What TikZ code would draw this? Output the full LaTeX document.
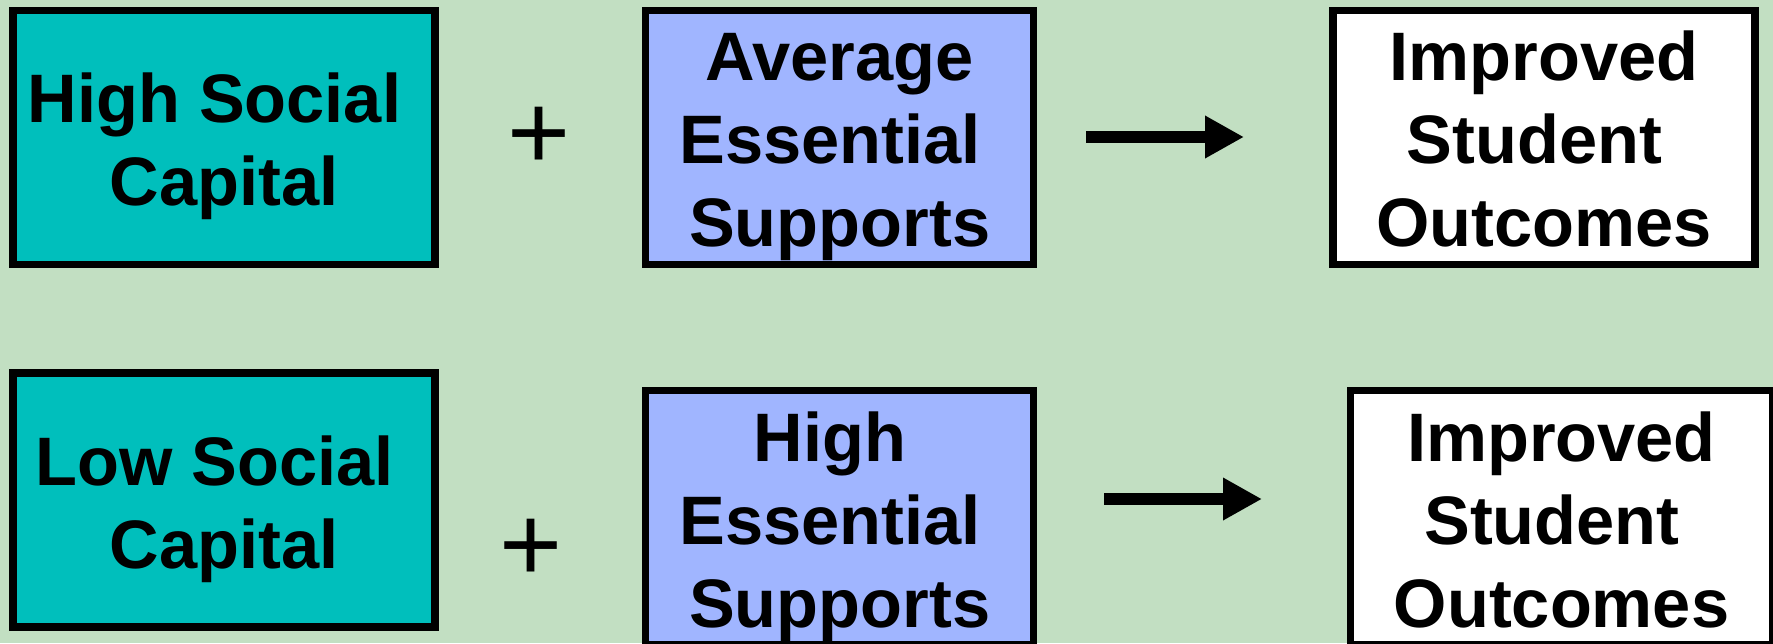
\documentclass[tikz,border=0pt]{standalone}
\usepackage{fontspec}
\setmainfont{Liberation Sans}
\usetikzlibrary{arrows.meta}
\definecolor{bgcol}{RGB}{194,223,194}
\definecolor{tealcol}{RGB}{0,191,188}
\definecolor{bluecol}{RGB}{160,181,255}
\begin{document}
\begin{tikzpicture}[x=0.5pt,y=-0.5pt,
  box/.style={draw=black,line width=3.75pt,minimum height=127pt,inner sep=0pt},
  wide/.style={minimum width=211pt},
  narrow/.style={minimum width=194pt},
  lbl/.style={anchor=base,align=center,inner sep=0pt,font=\bfseries\fontsize{34.3pt}{41.5pt}\selectfont},
  plus/.style={anchor=base,inner sep=0pt,font=\fontsize{54pt}{60pt}\selectfont},
  flow/.style={line width=6pt,-{Triangle[length=19.5pt,width=20pt]}}]
\useasboundingbox (0,0) rectangle (1773,643);
\clip (0,0) rectangle (1773,643);
\fill[bgcol] (0,0) rectangle (1773,643);
% boxes
\node[box,wide,fill=tealcol] (b1) at (224,137.3) {};
\node[box,narrow,fill=bluecol] (b2) at (839.7,137.3) {};
\node[box,wide,fill=white] (b3) at (1544,137.3) {};
\node[box,wide,fill=tealcol] (b4) at (224,500) {};
\node[box,narrow,fill=bluecol] (b5) at (839.7,517.5) {};
\node[box,wide,fill=white] (b6) at (1561.5,517.5) {};
% texts (anchored at the baseline of the last line)
\node[lbl] (t1) at (224,205) {High Social\kern0.28em\\Capital};
\node[lbl] (t2) at (839.7,246) {Average\\Essential\kern0.28em\\Supports};
\node[lbl] (t3) at (1544,246) {Improved\\Student\kern0.28em\\Outcomes};
\node[lbl] (t4) at (224,568) {Low Social\kern0.28em\\Capital};
\node[lbl] (t5) at (839.7,627.5) {High\kern0.28em\\Essential\kern0.28em\\Supports};
\node[lbl] (t6) at (1561.5,627.5) {Improved\\Student\kern0.28em\\Outcomes};
% plus signs
\node[plus] (p1) at (539.5,169) {+};
\node[plus] (p2) at (531.5,581) {+};
% arrows
\coordinate (a1s) at (1086,137);
\coordinate (a1e) at (1244,137);
\coordinate (a2s) at (1104,499);
\coordinate (a2e) at (1262,499);
\draw[flow] (a1s) -- (a1e);
\draw[flow] (a2s) -- (a2e);
\end{tikzpicture}
\end{document}
